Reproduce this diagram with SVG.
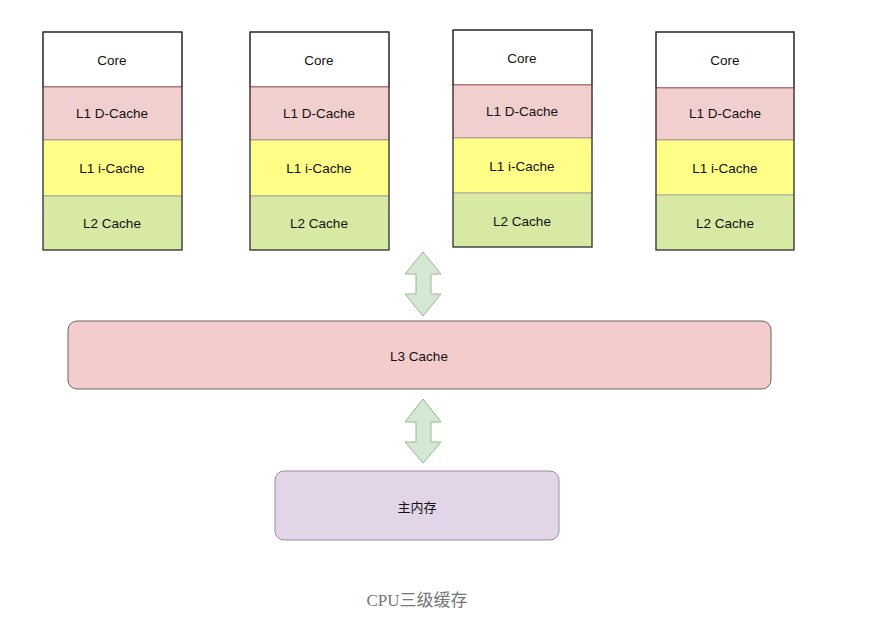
<svg xmlns="http://www.w3.org/2000/svg" width="875" height="624" viewBox="0 0 875 624">
<style>
.t{font-family:"Liberation Sans",Arial,sans-serif;font-size:13.5px;fill:#111;text-anchor:middle;dominant-baseline:central}
.core{fill:#ffffff;stroke:#333;stroke-width:1}
.d{fill:#f2cfcf;stroke:#b85450;stroke-width:0.8}
.i{fill:#ffff88;stroke:#999;stroke-width:0.8}
.l2{fill:#d7e9a2;stroke:#999;stroke-width:0.8}
.frame{fill:none;stroke:#333;stroke-width:1.2}
.arr{fill:#d5e8d4;stroke:#9ab68f;stroke-width:1}
</style>
<rect width="875" height="624" fill="#ffffff"/>
<g id="cpu1">
<rect class="core" x="43" y="32" width="139" height="55"/>
<rect class="d" x="43" y="87" width="139" height="53"/>
<rect class="i" x="43" y="140" width="139" height="56"/>
<rect class="l2" x="43" y="196" width="139" height="54"/>
<rect class="frame" x="43" y="32" width="139" height="218"/>
<text class="t" x="112" y="60">Core</text>
<text class="t" x="112" y="113">L1 D-Cache</text>
<text class="t" x="112" y="168">L1 i-Cache</text>
<text class="t" x="112" y="223">L2 Cache</text>
</g>
<g id="cpu2">
<rect class="core" x="250" y="32" width="139" height="55"/>
<rect class="d" x="250" y="87" width="139" height="53"/>
<rect class="i" x="250" y="140" width="139" height="56"/>
<rect class="l2" x="250" y="196" width="139" height="54"/>
<rect class="frame" x="250" y="32" width="139" height="218"/>
<text class="t" x="319" y="60">Core</text>
<text class="t" x="319" y="113">L1 D-Cache</text>
<text class="t" x="319" y="168">L1 i-Cache</text>
<text class="t" x="319" y="223">L2 Cache</text>
</g>
<g id="cpu3">
<rect class="core" x="453" y="30" width="139" height="55"/>
<rect class="d" x="453" y="85" width="139" height="53"/>
<rect class="i" x="453" y="138" width="139" height="55"/>
<rect class="l2" x="453" y="193" width="139" height="54"/>
<rect class="frame" x="453" y="30" width="139" height="217"/>
<text class="t" x="522" y="58">Core</text>
<text class="t" x="522" y="111">L1 D-Cache</text>
<text class="t" x="522" y="166">L1 i-Cache</text>
<text class="t" x="522" y="221">L2 Cache</text>
</g>
<g id="cpu4">
<rect class="core" x="656" y="32" width="138" height="56"/>
<rect class="d" x="656" y="88" width="138" height="52"/>
<rect class="i" x="656" y="140" width="138" height="55"/>
<rect class="l2" x="656" y="195" width="138" height="55"/>
<rect class="frame" x="656" y="32" width="138" height="218"/>
<text class="t" x="725" y="60">Core</text>
<text class="t" x="725" y="113">L1 D-Cache</text>
<text class="t" x="725" y="168">L1 i-Cache</text>
<text class="t" x="725" y="223">L2 Cache</text>
</g>
<g id="l3">
<rect x="68" y="321" width="703" height="68" rx="9" fill="#f4cccc" stroke="#666" stroke-width="1"/>
<text class="t" x="419" y="356">L3 Cache</text>
</g>
<g id="mem">
<rect x="275" y="471" width="284" height="69" rx="9" fill="#e1d5e7" stroke="#9a8aa4" stroke-width="1"/>
<text class="t" x="417" y="506" style="font-family:'Noto Sans CJK SC','Liberation Sans',sans-serif;font-size:13px">主内存</text>
</g>
<g id="connectors">
<path class="arr" d="M423,252 L441,274 L431,274 L431,294 L441,294 L423,316 L405,294 L416,294 L416,274 L405,274 Z"/>
<path class="arr" d="M423,399 L441,422 L431,422 L431,442 L441,442 L423,463 L405,442 L416,442 L416,422 L405,422 Z"/>
</g>
<text x="417" y="606" text-anchor="middle" style="font-family:'Liberation Serif','Noto Sans CJK SC',serif;font-size:17px;fill:#777">CPU三级缓存</text>
</svg>
